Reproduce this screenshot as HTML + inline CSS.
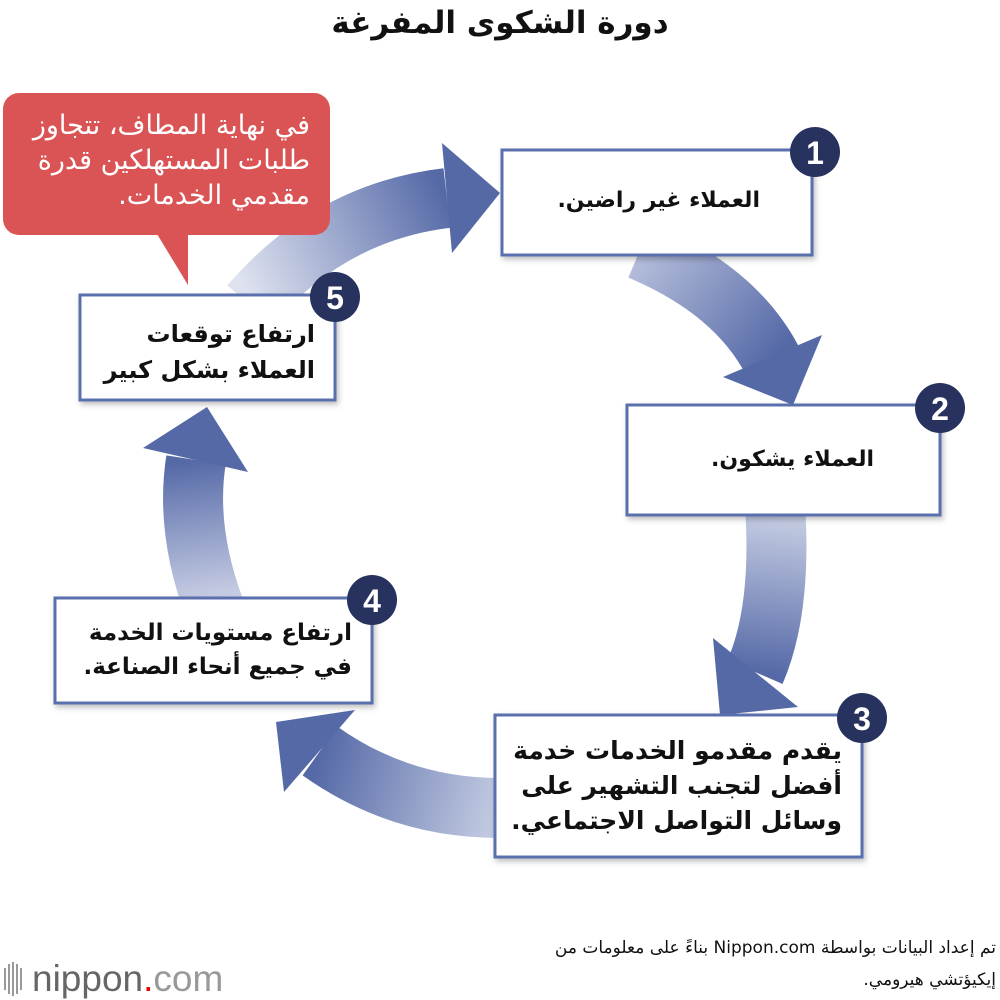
<!DOCTYPE html>
<html><head><meta charset="utf-8"><style>
body{margin:0;width:1000px;height:1000px;background:#fff;position:relative;overflow:hidden;font-family:"DejaVu Sans",sans-serif}
.t{position:absolute;direction:rtl;text-align:right;font-weight:bold;color:#111;white-space:nowrap}
</style></head><body>
<svg width="1000" height="1000" style="position:absolute;left:0;top:0">
<defs>
<linearGradient id="g1" gradientUnits="userSpaceOnUse" x1="640" y1="250" x2="772" y2="360"><stop offset="0" stop-color="#b7c0dc"/><stop offset="1" stop-color="#5569a7"/></linearGradient>
<linearGradient id="g2" gradientUnits="userSpaceOnUse" x1="775" y1="515" x2="755" y2="672"><stop offset="0" stop-color="#c6cde3"/><stop offset="1" stop-color="#5569a7"/></linearGradient>
<linearGradient id="g3" gradientUnits="userSpaceOnUse" x1="495" y1="800" x2="320" y2="751"><stop offset="0" stop-color="#c0c8e0"/><stop offset="1" stop-color="#5569a7"/></linearGradient>
<linearGradient id="g4" gradientUnits="userSpaceOnUse" x1="215" y1="600" x2="196" y2="460"><stop offset="0" stop-color="#c9cfe5"/><stop offset="1" stop-color="#5569a7"/></linearGradient>
<linearGradient id="g5" gradientUnits="userSpaceOnUse" x1="250" y1="300" x2="447" y2="198"><stop offset="0" stop-color="#dfe3f0"/><stop offset="1" stop-color="#5569a7"/></linearGradient>
<filter id="sh" x="-10%" y="-10%" width="130%" height="130%"><feDropShadow dx="2" dy="3" stdDeviation="3" flood-color="#000" flood-opacity="0.25"/></filter>
</defs>
<g fill="none" stroke-width="60">
<path d="M640 250 Q735 290 772 360" stroke="url(#g1)"/>
<path d="M775 505 Q782 610 755 672" stroke="url(#g2)"/>
<path d="M500 808 Q400 808 320 751" stroke="url(#g3)"/>
<path d="M215 610 Q185 530 196 460" stroke="url(#g4)"/>
<path d="M250 305 Q330 212 447 198" stroke="url(#g5)"/>
</g>
<g fill="#5569a7">
<polygon points="723,377 822,335 793,405"/>
<polygon points="713,638 798,707 720,715"/>
<polygon points="355,710 284,792 276,722"/>
<polygon points="143,448 248,472 207,407"/>
<polygon points="442,143 452,253 500,193"/>
</g>
<g fill="#fff" stroke="#5a6fae" stroke-width="3" filter="url(#sh)">
<rect x="502" y="150" width="310" height="105"/>
<rect x="627" y="405" width="313" height="110"/>
<rect x="495" y="715" width="367" height="142"/>
<rect x="55" y="598" width="317" height="105"/>
<rect x="80" y="295" width="255" height="105"/>
</g>
<g fill="#da5455">
<rect x="3" y="93" width="327" height="142" rx="16"/>
<polygon points="157,234 188,234 188,285"/>
</g>
<g fill="#27335e">
<circle cx="815" cy="152" r="25"/><circle cx="940" cy="408" r="25"/><circle cx="862" cy="718" r="25"/><circle cx="372" cy="600" r="25"/><circle cx="335" cy="297" r="25"/>
</g>
<g fill="#fff" font-family="Liberation Sans,sans-serif" font-weight="bold" font-size="32" text-anchor="middle">
<text x="815" y="164">1</text><text x="940" y="420">2</text><text x="862" y="730">3</text><text x="372" y="612">4</text><text x="335" y="309">5</text>
</g>
<g fill="#999"><rect x="4" y="968" width="2" height="22"/><rect x="8" y="964" width="2" height="30"/><rect x="12" y="962" width="2" height="34"/><rect x="16" y="964" width="2" height="30"/><rect x="20" y="968" width="2" height="22"/></g>
<text x="32" y="991" font-family="Liberation Sans,sans-serif" font-size="37" fill="#666">nippon<tspan fill="#e00">.</tspan><tspan fill="#999">com</tspan></text>
</svg>
<div class="t" style="left:0;width:1000px;text-align:center;top:5px;font-size:31px">دورة الشكوى المفرغة</div>
<div class="t" style="right:240px;top:188px;font-size:22px">العملاء غير راضين.</div>
<div class="t" style="right:126px;top:447px;font-size:22px">العملاء يشكون.</div>
<div class="t" style="right:158px;top:733px;font-size:25px;line-height:35px">يقدم مقدمو الخدمات خدمة<br>أفضل لتجنب التشهير على<br>وسائل التواصل الاجتماعي.</div>
<div class="t" style="right:648px;top:616px;font-size:23px;line-height:34px">ارتفاع مستويات الخدمة<br>في جميع أنحاء الصناعة.</div>
<div class="t" style="right:685px;top:316px;font-size:24px;line-height:36px">ارتفاع توقعات<br>العملاء بشكل كبير</div>
<div class="t" style="right:690px;top:108px;font-size:27px;line-height:35px;color:#fff;font-weight:normal">في نهاية المطاف، تتجاوز<br>طلبات المستهلكين قدرة<br>مقدمي الخدمات.</div>
<div class="t" style="right:4px;top:932px;font-size:17px;line-height:32px;font-weight:normal">تم إعداد البيانات بواسطة Nippon.com بناءً على معلومات من<br>إيكيؤتشي هيرومي.</div>
</body></html>
